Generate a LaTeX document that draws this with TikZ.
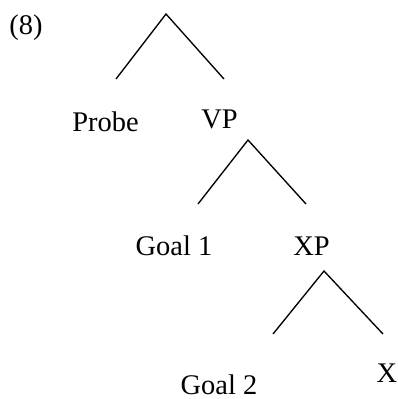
\documentclass[tikz,border=0pt]{standalone}
\usepackage{fontspec}
\setmainfont{Liberation Serif}
\tikzstyle{word} =
        [
                inner sep = 0pt,
                anchor = base,
                font = \fontsize{12.7}{15}\selectfont
        ]
\tikzstyle{branch} =
        [
                draw = black,
                line width = 0.6pt
        ]
\begin{document}
\begin{tikzpicture}[x = 0.015704cm, y = -0.015704cm]
    \useasboundingbox (0,0) rectangle (398,399);
    \node [word] (num) at (26,35) {(8)};
    % top level
    \coordinate (root) at (166,14);
    \coordinate (root-l) at (116,79);
    \coordinate (root-r) at (224,79);
    \node [word] (probe) at (105.5,131) {Probe};
    \node [word] (vp) at (219.5,128) {VP};
    % VP level
    \coordinate (vp-top) at (248,140);
    \coordinate (vp-l) at (198,204);
    \coordinate (vp-r) at (306,204);
    \node [word] (goal1) at (174,255) {Goal 1};
    \node [word] (xp) at (311.5,255) {XP};
    % XP level
    \coordinate (xp-top) at (324,271);
    \coordinate (xp-l) at (273,334);
    \coordinate (xp-r) at (383,334);
    \node [word] (goal2) at (219,394) {Goal 2};
    \node [word] (x) at (387,382) {X};
    \path [branch] (root-l) -- (root) -- (root-r);
    \path [branch] (vp-l) -- (vp-top) -- (vp-r);
    \path [branch] (xp-l) -- (xp-top) -- (xp-r);
\end{tikzpicture}
\end{document}
